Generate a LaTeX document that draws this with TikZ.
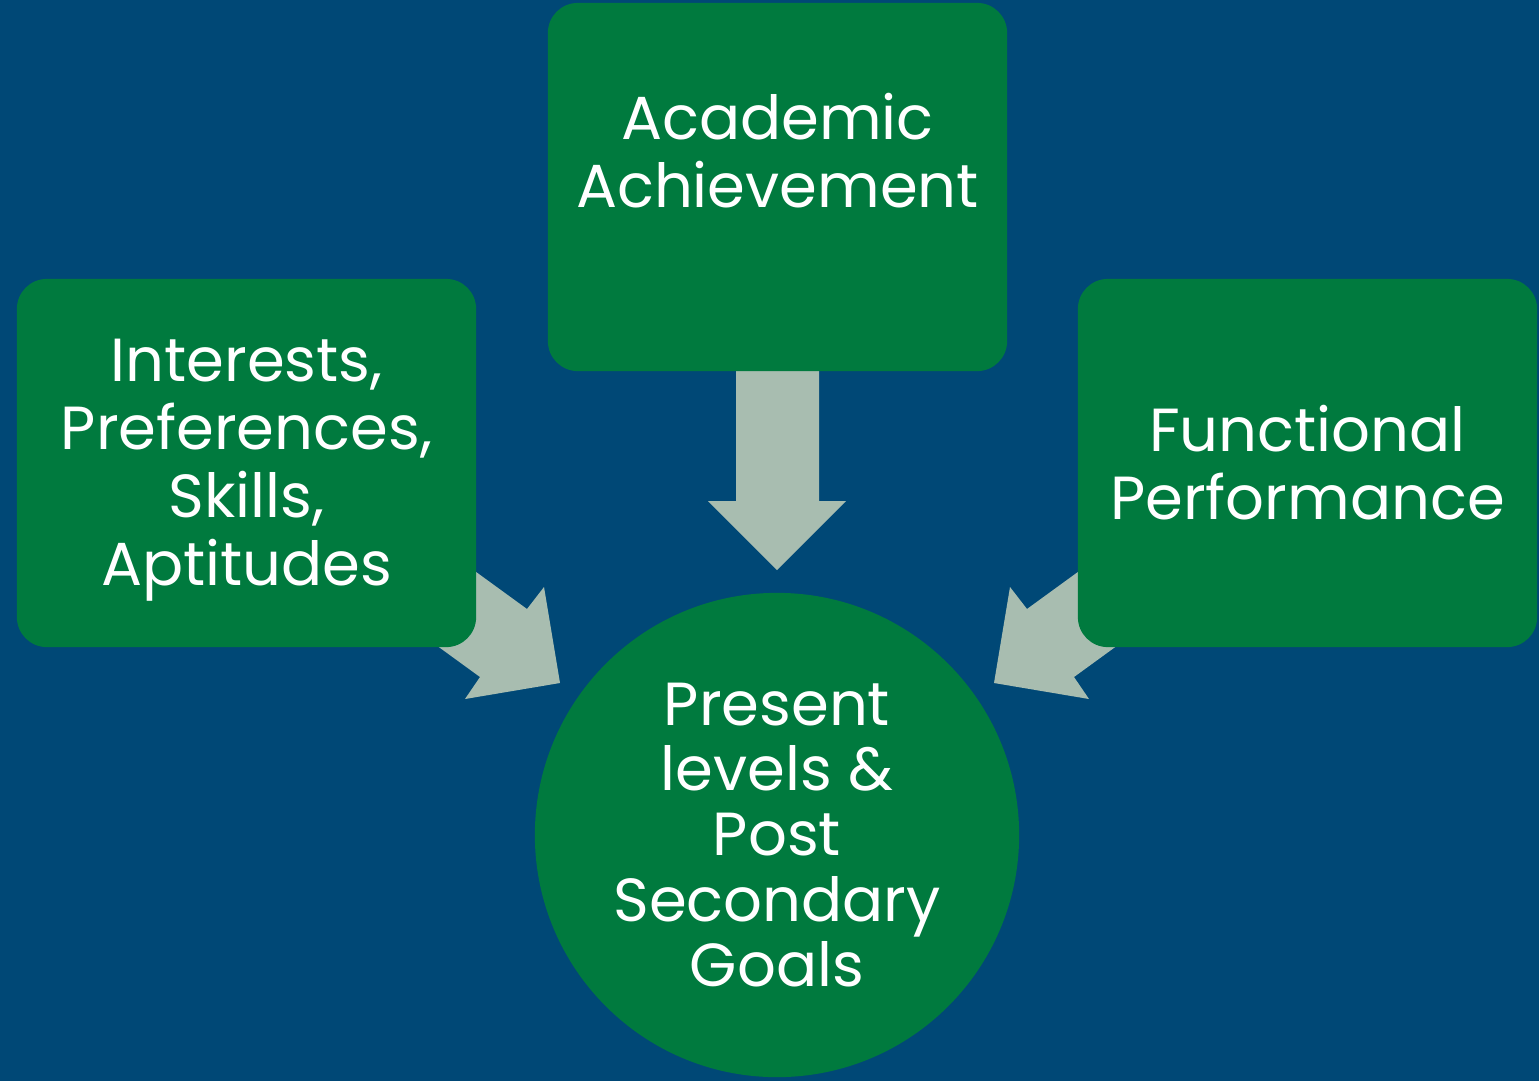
\documentclass[tikz,border=0pt]{standalone}
\usepackage{fontspec}
\setmainfont{Poppins}
\definecolor{bgblue}{RGB}{0,72,118}
\definecolor{boxgreen}{RGB}{0,122,62}
\definecolor{arrowgray}{RGB}{168,189,176}
\tikzset{
  box/.style={fill=boxgreen, draw=none, rounded corners=0.3cm, minimum width=4.59cm, minimum height=3.68cm, text=white, align=center, font=\fontsize{17.3}{19.35}\selectfont, inner sep=0pt},
  hub/.style={circle, fill=boxgreen, draw=none, minimum size=4.84cm, text=white, align=center, font=\fontsize{17.3}{18.5}\selectfont, inner sep=0pt},
  blockarrow/.style={fill=arrowgray, draw=none},
  lbl/.style={text=white, align=center, font=\fontsize{17.3}{19.35}\selectfont, inner sep=0pt}
}
\begin{document}
\begin{tikzpicture}[x=0.01cm, y=-0.01cm]
\fill[bgblue] (0,0) rectangle (1539,1081);
\useasboundingbox (0,0) rectangle (1539,1081);
% block arrows (behind the boxes)
\fill[blockarrow] (736,360) -- (736,501) -- (708,501) -- (777,570) -- (846,501) -- (819,501) -- (819,360) -- cycle;
\fill[blockarrow] (406,521) -- (527,609) -- (544,587) -- (560,683) -- (465,699) -- (480,677) -- (359,589) -- cycle;
\fill[blockarrow] (1148,521) -- (1027,609) -- (1010,587) -- (994,683) -- (1089,699) -- (1074,677) -- (1195,589) -- cycle;
% boxes
\node[box] (top) at (777.5,187) {};
\node[lbl] (toptext) at (777.5,151) {Academic\\Achievement};
\node[box] (left) at (246.5,463) {};
\node[lbl] (lefttext) at (246.5,470) {Interests,\\Preferences,\\Skills,\\Aptitudes};
\node[box] (right) at (1307.5,463) {Functional\\Performance};
\node[hub] (goal) at (777,835) {Present\\levels \&\\Post\\Secondary\\Goals};
\end{tikzpicture}
\end{document}
